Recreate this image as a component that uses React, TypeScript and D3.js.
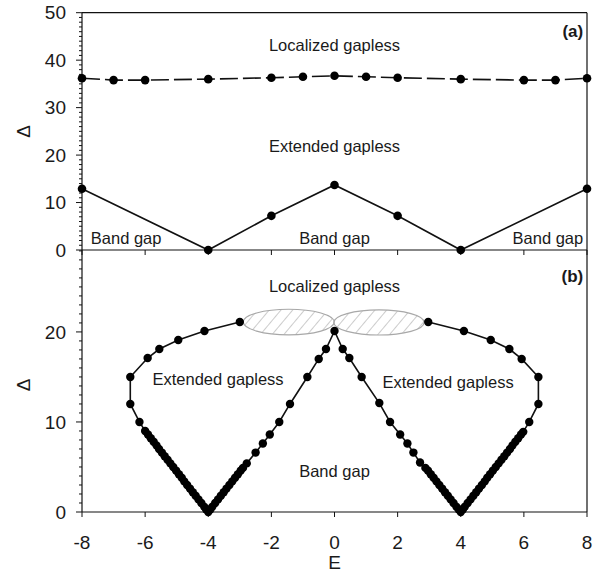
import { FC } from "react";
import * as d3 from "d3";

const W = 599, H = 574;
const LEFT = 82, RIGHT = 587;
const TOP_A = 12.7, BOT_A = 250, BOT_B = 512;
const FONT = "'Liberation Sans', Arial, Helvetica, sans-serif";

// panel (a)
const aE = [-8, -7, -6, -4, -2, -1, 0, 1, 2, 4, 6, 7, 8];
const aUpper = [36.2, 35.8, 35.8, 36.0, 36.3, 36.5, 36.7, 36.5, 36.3, 36.0, 35.8, 35.8, 36.2];
const aLowE = [-8, -4, -2, 0, 2, 4, 8];
const aLower = [12.9, 0, 7.2, 13.7, 7.2, 0, 12.9];

// panel (b): one connected boundary, read point by point
const bE = [
  -3.0, -4.12, -4.95, -5.55, -5.92, -6.47, -6.47, -6.18,
  -6.0, -5.91, -5.82, -5.73, -5.64, -5.56, -5.47, -5.38, -5.29, -5.2, -5.11, -5.02,
  -4.93, -4.84, -4.76, -4.67, -4.58, -4.49, -4.4, -4.31, -4.22, -4.13, -4.07, -4.0,
  -3.93, -3.87, -3.78, -3.69, -3.6, -3.51, -3.42, -3.33, -3.24, -3.15, -3.06, -2.97, -2.9,
  -2.78, -2.5, -2.27, -2.05, -1.75, -1.41, -0.86, -0.5, -0.27,
  0,
  0.26, 0.47, 0.86, 1.42, 1.76, 2.08, 2.31, 2.5, 2.71,
  2.88, 2.96, 3.05, 3.14, 3.23, 3.32, 3.41, 3.5, 3.59, 3.68, 3.77, 3.86, 3.93, 4.0,
  4.07, 4.13, 4.22, 4.31, 4.4, 4.49, 4.58, 4.67, 4.76, 4.84, 4.93, 5.02,
  5.11, 5.2, 5.29, 5.38, 5.47, 5.56, 5.64, 5.73, 5.82, 5.91, 5.98,
  6.17, 6.46, 6.46, 5.93, 5.54, 4.95, 4.1, 2.97,
];
const bD = [
  21.1, 20.1, 19.1, 18.1, 17.1, 15.0, 12.0, 10.0,
  9.0, 8.6, 8.2, 7.8, 7.4, 7.0, 6.6, 6.2, 5.8, 5.4, 5.0, 4.6,
  4.2, 3.8, 3.4, 3.0, 2.6, 2.2, 1.8, 1.4, 1.0, 0.6, 0.3, 0,
  0.3, 0.6, 1.0, 1.4, 1.8, 2.2, 2.6, 3.0, 3.4, 3.8, 4.2, 4.6, 4.9,
  5.4, 6.6, 7.6, 8.6, 10.0, 12.0, 15.0, 17.0, 18.1,
  20.1,
  18.1, 17.1, 15.0, 12.1, 10.0, 8.6, 7.6, 6.6, 5.5,
  4.9, 4.6, 4.2, 3.8, 3.4, 3.0, 2.6, 2.2, 1.8, 1.4, 1.0, 0.6, 0.3, 0,
  0.3, 0.6, 1.0, 1.4, 1.8, 2.2, 2.6, 3.0, 3.4, 3.8, 4.2, 4.6,
  5.0, 5.4, 5.8, 6.2, 6.6, 7.0, 7.4, 7.8, 8.2, 8.6, 8.9,
  10.0, 12.0, 15.0, 17.0, 18.1, 19.1, 20.1, 21.1,
];

// hatched regions in (b): centre E, centre Δ, half widths
const ellCE = [-1.45, 1.41];
const ellCD = [21.1, 21.05];
const ellRE = [1.44, 1.43];
const ellRD = [1.42, 1.39];

const xTicks = [-8, -6, -4, -2, 0, 2, 4, 6, 8];
const aTicks = [0, 10, 20, 30, 40, 50];
const bTicks = [0, 10, 20];

const App: FC = () => {
  const x = d3.scaleLinear().domain([-8, 8]).range([LEFT, RIGHT]);
  const yA = d3.scaleLinear().domain([0, 50]).range([BOT_A, TOP_A]);
  const yB = d3.scaleLinear().domain([0, 29.1]).range([BOT_B, BOT_A]);

  const upperPts = aE.map((e, i) => [e, aUpper[i]] as [number, number]);
  const lowerPts = aLowE.map((e, i) => [e, aLower[i]] as [number, number]);
  const bPts = bE.map((e, i) => [e, bD[i]] as [number, number]);

  const lineA = d3.line<[number, number]>().x((d) => x(d[0])).y((d) => yA(d[1]));
  const lineB = d3.line<[number, number]>().x((d) => x(d[0])).y((d) => yB(d[1]));

  const minorA = d3.range(0, 51, 1);
  const minorB = d3.range(0, 30, 1);

  const txt = (
    s: string, px: number, py: number, anchor: string, size = 16.5, bold = false
  ) => (
    <text x={px} y={py} textAnchor={anchor} fontSize={size}
      fontWeight={bold ? "bold" : "normal"} fill="#1a1a1a">{s}</text>
  );

  return (
    <svg width={W} height={H} style={{ position: "absolute", left: 0, top: 0 }}
      fontFamily={FONT}>
      <defs>
        <pattern id="hatch" patternUnits="userSpaceOnUse" width={9} height={9}
          patternTransform="rotate(40)">
          <line x1={0} y1={0} x2={0} y2={9} stroke="#9a9a9a" strokeWidth={1} />
        </pattern>
      </defs>
      <rect width={W} height={H} fill="#fff" />

      {/* frame */}
      <g stroke="#111" strokeWidth={1.2} fill="none">
        <line x1={LEFT} x2={RIGHT} y1={TOP_A} y2={TOP_A} />
        <line x1={LEFT} x2={RIGHT} y1={BOT_A} y2={BOT_A} />
        <line x1={LEFT} x2={RIGHT} y1={BOT_B} y2={BOT_B} />
        <line x1={LEFT} x2={LEFT} y1={TOP_A} y2={BOT_B} />
        <line x1={RIGHT} x2={RIGHT} y1={TOP_A} y2={BOT_B} />
      </g>

      {/* ticks */}
      <g stroke="#111" strokeWidth={1}>
        {minorA.map((v) => (
          <line key={"ma" + v} x1={LEFT - (v % 10 === 0 ? 6 : 3)} x2={LEFT} y1={yA(v)} y2={yA(v)} />
        ))}
        {minorB.map((v) => (
          <line key={"mb" + v} x1={LEFT - (v % 10 === 0 ? 6 : 3)} x2={LEFT} y1={yB(v)} y2={yB(v)} />
        ))}
        {xTicks.map((v) => (
          <g key={"xt" + v}>
            <line x1={x(v)} x2={x(v)} y1={BOT_A} y2={BOT_A + 5} />
            <line x1={x(v)} x2={x(v)} y1={BOT_B} y2={BOT_B + 5} />
          </g>
        ))}
      </g>

      {/* tick labels */}
      <g fontSize={19} fill="#1a1a1a">
        {aTicks.map((v) => (
          <text key={"la" + v} x={66} y={yA(v)} dy="0.35em" textAnchor="end">{v}</text>
        ))}
        {bTicks.map((v) => (
          <text key={"lb" + v} x={66} y={yB(v)} dy="0.35em" textAnchor="end">{v}</text>
        ))}
        {xTicks.map((v) => (
          <text key={"lx" + v} x={x(v)} y={549} textAnchor="middle">{v}</text>
        ))}
      </g>
      <text x={x(0)} y={569} textAnchor="middle" fontSize={19} fill="#1a1a1a">E</text>
      <text transform={`translate(30,${(TOP_A + BOT_A) / 2}) rotate(-90)`} textAnchor="middle"
        fontSize={19} fill="#1a1a1a">Δ</text>
      <text transform={`translate(30,${(BOT_A + BOT_B) / 2 + 4}) rotate(-90)`} textAnchor="middle"
        fontSize={19} fill="#1a1a1a">Δ</text>

      {/* panel (a) */}
      <path d={lineA(upperPts) ?? ""} fill="none" stroke="#111" strokeWidth={1.6}
        strokeDasharray="18,5" />
      <path d={lineA(lowerPts) ?? ""} fill="none" stroke="#111" strokeWidth={1.6} />
      {upperPts.concat(lowerPts).map((d, i) => (
        <circle key={"pa" + i} cx={x(d[0])} cy={yA(d[1])} r={4.3} fill="#000" />
      ))}
      {txt("Localized gapless", x(0), yA(41.9), "middle")}
      {txt("Extended gapless", x(0), yA(20.6), "middle")}
      {txt("Band gap", x(-7.72), yA(1.3), "start")}
      {txt("Band gap", x(0), yA(1.3), "middle")}
      {txt("Band gap", x(7.88), yA(1.3), "end")}
      {txt("(a)", x(7.88), yA(44.9), "end", 17, true)}

      {/* panel (b) */}
      {ellCE.map((c, i) => (
        <ellipse key={"el" + i} cx={x(c)} cy={yB(ellCD[i])}
          rx={x(c + ellRE[i]) - x(c)} ry={yB(0) - yB(ellRD[i])}
          fill="url(#hatch)" stroke="#a8a8a8" strokeWidth={1.2} />
      ))}
      <path d={lineB(bPts) ?? ""} fill="none" stroke="#111" strokeWidth={1.6} />
      {bPts.map((d, i) => (
        <circle key={"pb" + i} cx={x(d[0])} cy={yB(d[1])} r={4.2} fill="#000" />
      ))}
      {txt("Localized gapless", x(0), yB(24.4), "middle")}
      {txt("Extended gapless", x(-3.69), yB(14.1), "middle")}
      {txt("Extended gapless", x(3.6), yB(13.8), "middle")}
      {txt("Band gap", x(0), yB(3.9), "middle")}
      {txt("(b)", x(7.88), yB(25.5), "end", 17, true)}
    </svg>
  );
};

export default App;
